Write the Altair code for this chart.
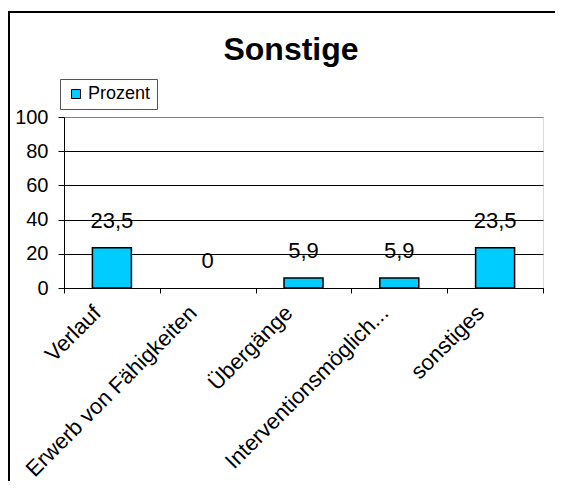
import altair as alt
import pandas as pd

# ---- data ----
categories = ["Verlauf", "Erwerb von Fähigkeiten", "Übergänge", "Interventionsmöglich...", "sonstiges"]
values = [23.5, 0, 5.9, 5.9, 23.5]
series_name = "Prozent"
y_ticks = [0, 20, 40, 60, 80, 100]
title_text = "Sonstige"

FONT = "Liberation Sans"
BAR_COLOR = "#00CCFF"

df = pd.DataFrame({
    "kategorie": categories,
    "prozent": values,
    "serie": [series_name] * len(categories),
})

x_enc = alt.X(
    "kategorie:N",
    sort=categories,
    scale=alt.Scale(paddingInner=0, paddingOuter=0),
    axis=alt.Axis(
        title=None,
        labelAngle=-45,
        labelAlign="right",
        labelBaseline="middle",
        labelOffset=-15,
        labelPadding=16,
        labelLimit=500,
        labelOverlap=False,
        labelFontSize=22,
        labelFont=FONT,
        labelColor="black",
        tickBand="extent",
        tickSize=5,
        tickColor="black",
        domainColor="black",
        grid=False,
    ),
)

y_enc = alt.Y(
    "prozent:Q",
    scale=alt.Scale(domain=[0, 100]),
    axis=alt.Axis(
        title=None,
        values=y_ticks,
        tickCount=len(y_ticks),
        labelOverlap=False,
        grid=True,
        gridColor={"condition": {"test": "datum.value === 100", "value": "#808080"}, "value": "black"},
        gridWidth=1,
        tickSize=6,
        tickColor="black",
        domainColor="black",
        labelPadding=10,
        labelFontSize=20,
        labelFont=FONT,
        labelColor="black",
    ),
)

bars = alt.Chart(df).mark_bar(size=39, stroke="black", strokeWidth=1.5).encode(
    x=x_enc,
    y=y_enc,
    strokeOpacity=alt.condition("datum.prozent > 0", alt.value(1), alt.value(0)),
    color=alt.Color(
        "serie:N",
        scale=alt.Scale(range=[BAR_COLOR]),
        legend=alt.Legend(
            title=None,
            orient="none",
            legendX=-4,
            legendY=-38,
            fillColor="white",
            strokeColor="#555555",
            padding=6,
            labelFontSize=18,
            labelFont=FONT,
            labelColor="black",
            labelOffset=3,
            symbolOffset=1,
            symbolType="square",
            symbolSize=81,
            symbolStrokeColor="black",
            symbolStrokeWidth=1,
        ),
    ),
)

labels = alt.Chart(df).transform_calculate(
    label="datum.prozent == 0 ? '0' : replace(format(datum.prozent, '.1f'), '.', ',')"
).mark_text(
    dy=-20, baseline="alphabetic", align="center", fontSize=22, font=FONT, color="black"
).encode(
    x=alt.X("kategorie:N", sort=categories),
    y=alt.Y("prozent:Q"),
    text="label:N",
)

deco = pd.DataFrame({"t": [title_text]})

title_mark = alt.Chart(deco).mark_text(
    fontSize=32, fontWeight="bold", font=FONT, baseline="alphabetic", align="center", color="black"
).encode(x=alt.value(227), y=alt.value(-57), text="t:N")

# outer chart frame (right and bottom edges fall outside the picture, as in the reference)
frame = alt.Chart(deco).mark_rect(fillOpacity=0, stroke="black", strokeWidth=2).encode(
    x=alt.value(-55), x2=alt.value(600), y=alt.value(-105), y2=alt.value(500)
)

chart = alt.layer(frame, title_mark, bars, labels).properties(
    width=479,
    height=171,
    padding={"left": 56, "top": 109, "right": 12, "bottom": 193},
    autosize="none",
).configure_view(
    stroke="#808080", strokeWidth=1
).configure(background="white")

chart.save("out.html", embed_options={"renderer": "svg", "actions": False})
